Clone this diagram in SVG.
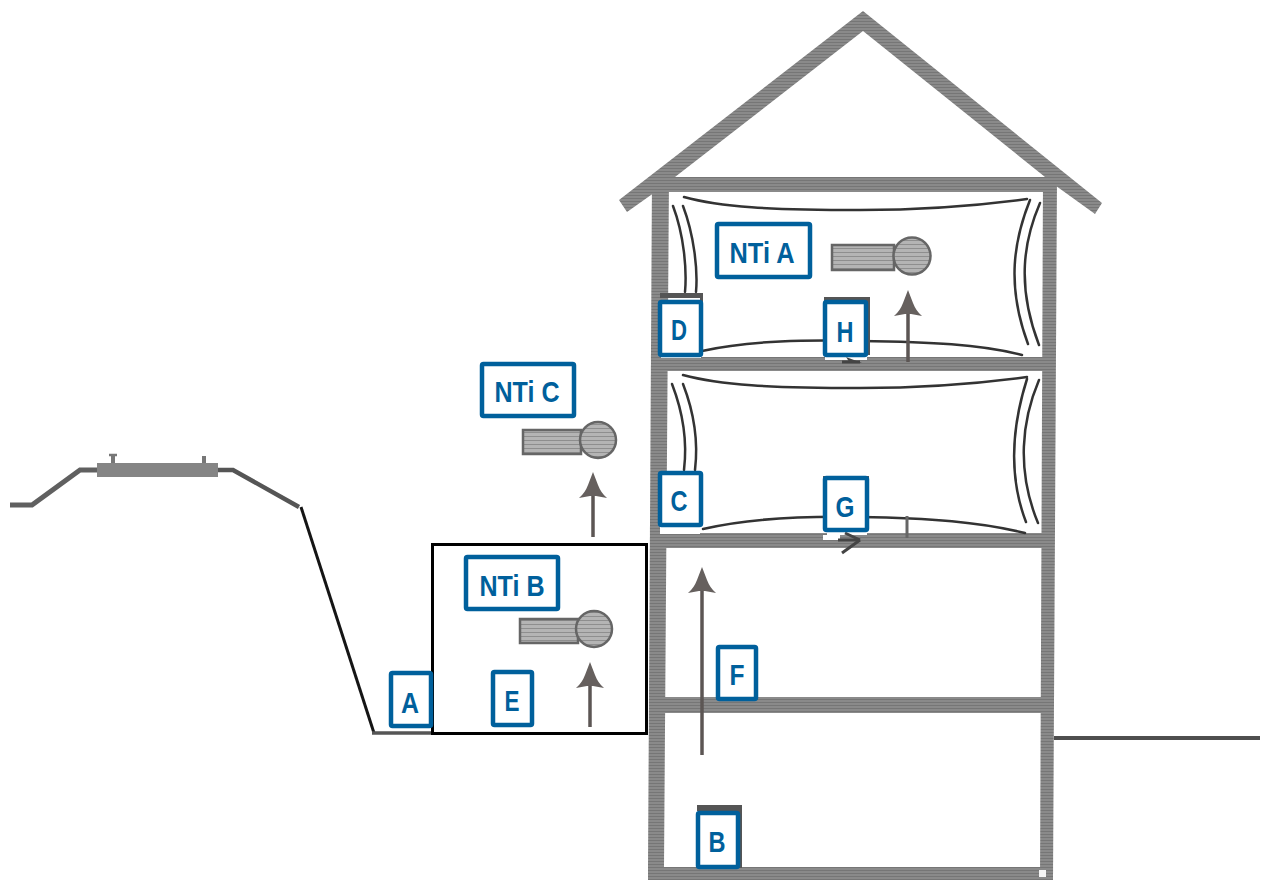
<svg xmlns="http://www.w3.org/2000/svg" width="1263" height="881" viewBox="0 0 1263 881">
<style>
.wall{fill:url(#hatch)}
.thin{fill:none;stroke:#333;stroke-width:2.500;stroke-linecap:round}
.shaft{fill:none;stroke:#5c5654;stroke-width:3.500}
.head{fill:#66605e}
.sensor{fill:url(#fine);stroke:#666;stroke-width:2.500}
.box{fill:#fff;stroke:#00609c;stroke-width:4.500}
.cap{fill:#555}
text{font-family:"Liberation Sans",Arial,sans-serif;font-weight:700;fill:#00609c;font-size:30px;text-anchor:middle}
</style>
<defs>
<pattern id="hatch" width="6" height="3" patternUnits="userSpaceOnUse"><rect width="6" height="3" fill="#8a8a8a"/><rect width="6" height="1" fill="#767676"/></pattern>
<pattern id="fine" width="6" height="4" patternUnits="userSpaceOnUse"><rect width="6" height="4" fill="#b4b4b4"/><rect width="6" height="1" fill="#8e8e8e"/></pattern>
<path id="up" d="M0 0L5 13Q8 21 14 26L3 24H-3L-14 26Q-8 21 -5 13Z"/>
</defs>
<rect width="1263" height="881" fill="#fff"/>
<g id="landscape">
<path d="M10 505H32L80 470H98" fill="none" stroke="#606060" stroke-width="5"/>
<path d="M218 470H233L299 507" fill="none" stroke="#555" stroke-width="4.500"/>
<rect x="97" y="463" width="121" height="14" fill="#858585"/>
<path d="M113 463V456M204 463V456" stroke="#777" stroke-width="4" fill="none"/>
<path d="M109 455H117" stroke="#777" stroke-width="2.500" fill="none"/>
<path d="M301 507L374 733" fill="none" stroke="#151515" stroke-width="3"/>
<path d="M372 733H432" fill="none" stroke="#555" stroke-width="3.500"/>
<path d="M1054 738H1260" fill="none" stroke="#4f4f4f" stroke-width="4"/>
</g>
<g id="house">
<path d="M863 11L1102 203L1095 214L1045 178H675L627 212L619 200Z M863 31L675 177H1045Z" fill-rule="evenodd" class="wall"/>
<path d="M652 177H669L664 867H648Z" class="wall"/>
<path d="M1043 177H1057L1053 880H1040Z" class="wall"/>
<rect x="660" y="177" width="390" height="15" class="wall"/>
<rect x="660" y="357" width="390" height="14" class="wall"/>
<rect x="660" y="533" width="390" height="15" class="wall"/>
<rect x="660" y="697" width="388" height="16" class="wall"/>
<rect x="648" y="867" width="405" height="13" class="wall"/>
<rect x="1039" y="870" width="7" height="7" fill="#f4f4f4"/>
</g>
<g id="foils">
<path class="thin" d="M684 197C720 207 770 210 860 210C930 210 990 204 1027 199"/>
<path class="thin" d="M673 206C684 235 687 270 685 292M683 206C694 235 698 270 696 292"/>
<path class="thin" d="M1030 200C1014 240 1006 285 1028 344M1040 203C1024 240 1016 285 1039 345"/>
<path class="thin" d="M702 351C750 340 810 340 860 341C930 342 980 344 1022 355"/>
<path class="thin" d="M683 375C720 385 770 388 860 388C930 388 990 382 1027 377"/>
<path class="thin" d="M672 384C684 415 687 445 684 470M683 384C695 415 698 445 695 470"/>
<path class="thin" d="M1027 379C1014 420 1006 470 1026 522M1039 380C1022 420 1016 470 1038 523"/>
<path class="thin" d="M703 529C750 518 810 516 860 517C930 518 980 522 1025 533"/>
<path d="M907 516V538" stroke="#666" stroke-width="3" fill="none"/>
</g>
<g id="connectors">
<path class="shaft" d="M593 537V490"/><use href="#up" x="593" y="472" class="head"/>
<path class="shaft" d="M590 727V680"/><use href="#up" x="590" y="662" class="head"/>
<path class="shaft" d="M908 362V310"/><use href="#up" x="908" y="290" class="head"/>
<path class="shaft" d="M702 755V590"/><use href="#up" x="702" y="567" class="head"/>
<rect x="825" y="355" width="42" height="5" fill="#fff"/>
<rect x="660" y="525" width="40" height="9" fill="#fff"/>
<rect x="661" y="355" width="40" height="3" fill="#fff"/>
<rect x="827" y="530" width="40" height="5" fill="#fff"/>
<rect x="823" y="535" width="17" height="5" fill="#fff"/>
<path d="M842 362H860" stroke="#444" stroke-width="3" fill="none"/>
<path d="M862 363L846 357L850 363Z" fill="#444"/>
<path d="M838 540H860" stroke="#444" stroke-width="3" fill="none"/>
<path d="M860 540L845 533M860 540L842 553" stroke="#444" stroke-width="3" fill="none"/>
</g>
<g id="black-box"><rect x="432.500" y="544.500" width="214" height="189" fill="none" stroke="#000" stroke-width="3"/></g>
<g id="sensor-a"><rect x="832" y="245" width="62" height="25" class="sensor"/><circle cx="912" cy="256" r="18.500" class="sensor"/></g>
<g id="sensor-b"><rect x="520" y="619" width="58" height="24" class="sensor"/><circle cx="594" cy="629" r="18" class="sensor"/></g>
<g id="sensor-c"><rect x="523" y="430" width="58" height="24" class="sensor"/><circle cx="598" cy="440" r="18" class="sensor"/></g>
<g id="sockets">
<rect x="660" y="293" width="43" height="5" class="cap"/><rect x="700" y="293" width="3" height="60" class="cap"/>
<rect x="824" y="297" width="46" height="4" class="cap"/><rect x="867" y="297" width="3" height="58" class="cap"/>
<rect x="823" y="476" width="46" height="3" class="cap"/>
<rect x="697" y="805" width="45" height="6" class="cap"/><rect x="738" y="805" width="4" height="63" class="cap"/>
</g>
<g id="nti-a"><rect x="717" y="224" width="93" height="53" rx="1.500" class="box"/><text x="762" y="263" textLength="65" lengthAdjust="spacingAndGlyphs">NTi A</text></g>
<g id="nti-b"><rect x="466" y="557" width="92" height="52" rx="1.500" class="box"/><text x="512" y="596" textLength="65" lengthAdjust="spacingAndGlyphs">NTi B</text></g>
<g id="nti-c"><rect x="482" y="364" width="92" height="52" rx="1.500" class="box"/><text x="527" y="402" textLength="65" lengthAdjust="spacingAndGlyphs">NTi C</text></g>
<g id="a"><rect x="391" y="673" width="40" height="53" rx="1.500" class="box"/><text x="410" y="713" textLength="18" lengthAdjust="spacingAndGlyphs">A</text></g>
<g id="b"><rect x="698" y="813" width="40" height="54" rx="1.500" class="box"/><text x="717" y="852" textLength="17" lengthAdjust="spacingAndGlyphs">B</text></g>
<g id="c"><rect x="660" y="473" width="41" height="52" rx="1.500" class="box"/><text x="679" y="511" textLength="17" lengthAdjust="spacingAndGlyphs">C</text></g>
<g id="d"><rect x="660" y="302" width="41" height="53" rx="1.500" class="box"/><text x="679" y="340" textLength="16" lengthAdjust="spacingAndGlyphs">D</text></g>
<g id="e"><rect x="493" y="672" width="39" height="53" rx="1.500" class="box"/><text x="512" y="711" textLength="15" lengthAdjust="spacingAndGlyphs">E</text></g>
<g id="f"><rect x="718" y="647" width="38" height="52" rx="1.500" class="box"/><text x="737" y="685" textLength="15" lengthAdjust="spacingAndGlyphs">F</text></g>
<g id="g"><rect x="825" y="478" width="42" height="52" rx="1.500" class="box"/><text x="845" y="517" textLength="19" lengthAdjust="spacingAndGlyphs">G</text></g>
<g id="h"><rect x="825" y="302" width="41" height="53" rx="1.500" class="box"/><text x="845" y="342" textLength="17" lengthAdjust="spacingAndGlyphs">H</text></g>
</svg>
